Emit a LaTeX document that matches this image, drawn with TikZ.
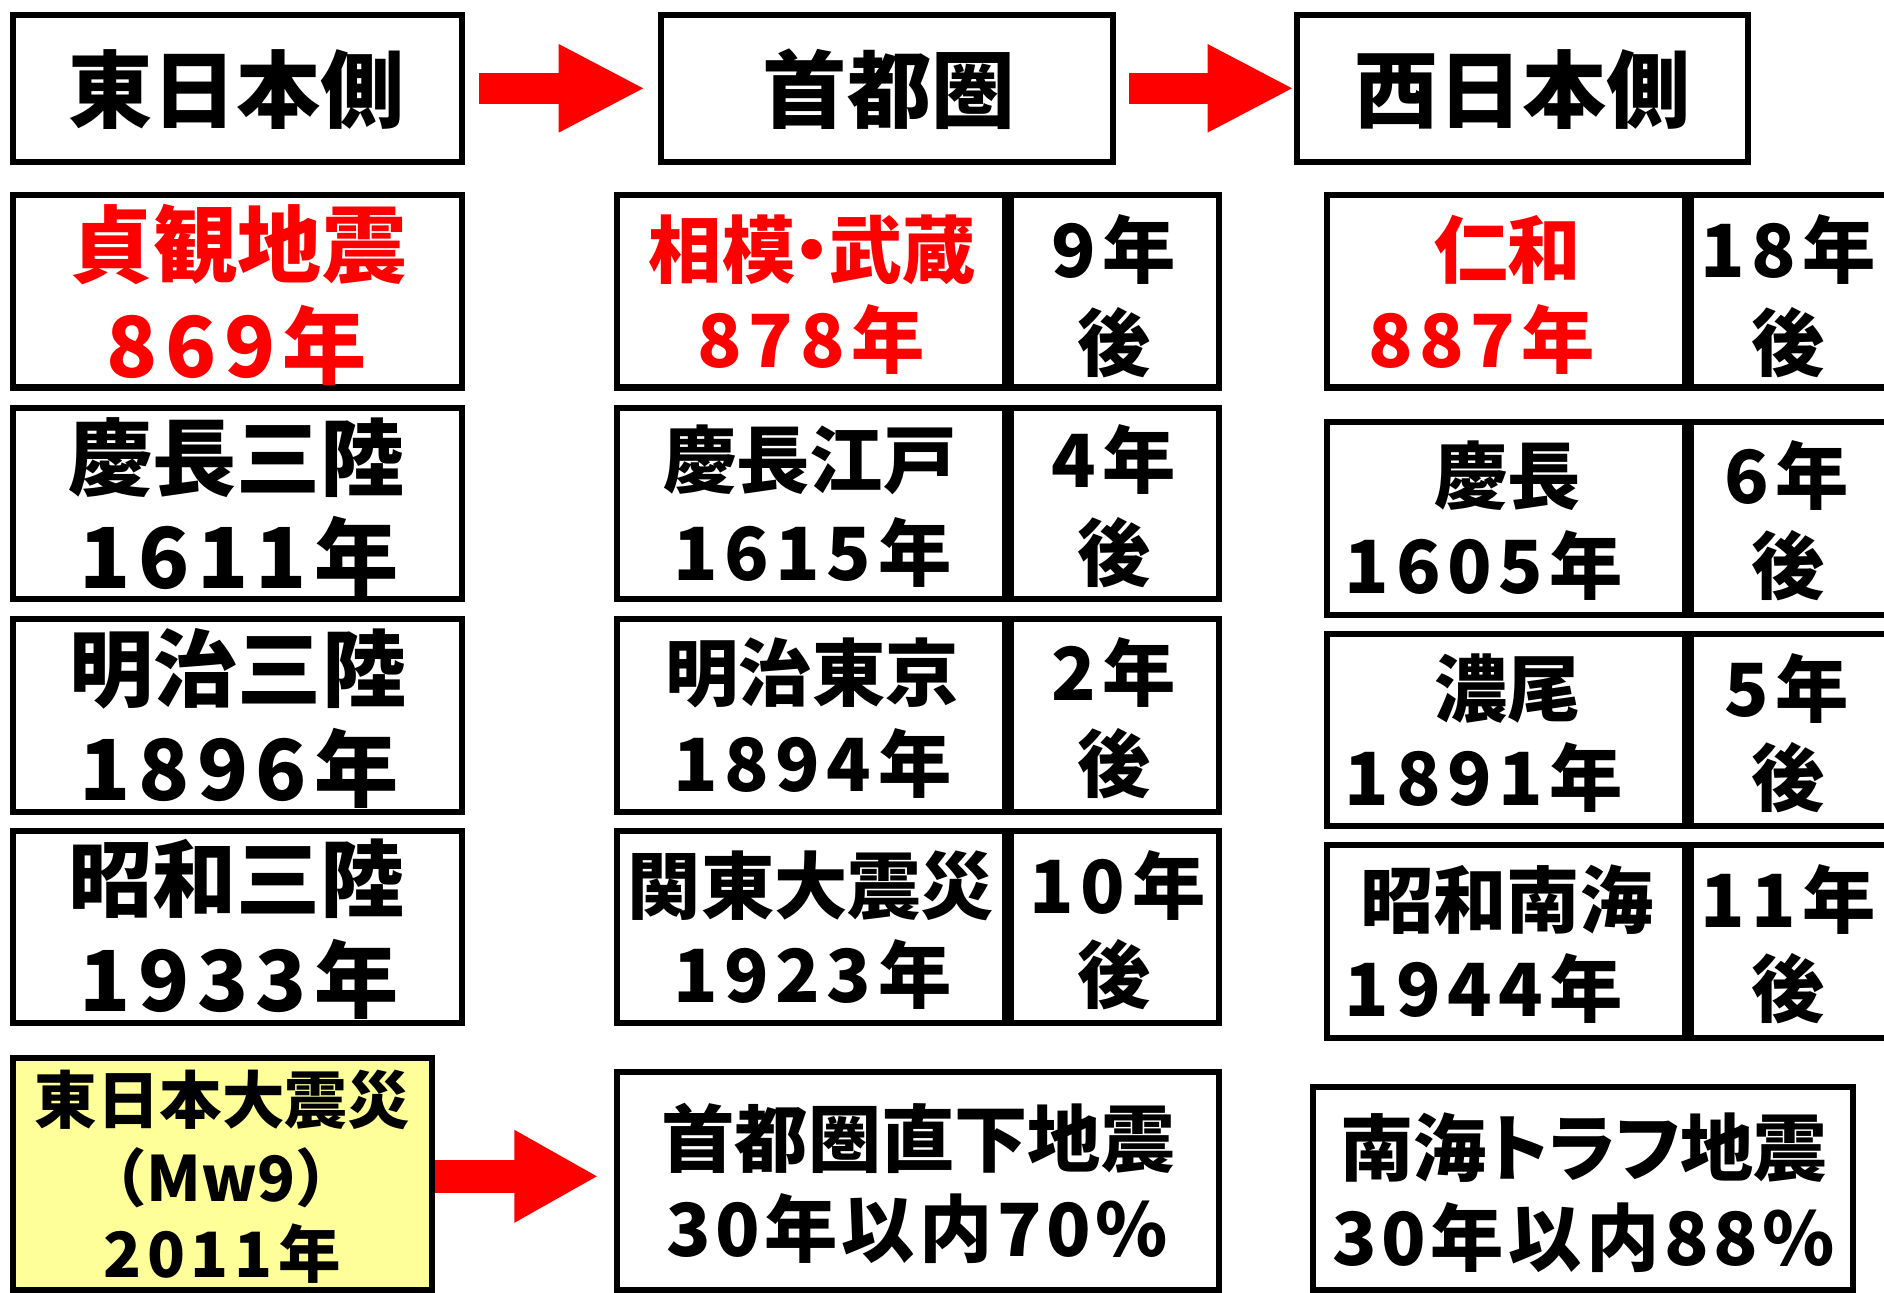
\documentclass[tikz,border=0pt]{standalone}
\usepackage{fontspec}
\setmainfont{Noto Sans CJK JP}
\usetikzlibrary{arrows.meta}
\definecolor{rd}{HTML}{FF0000}
\definecolor{paleyellow}{HTML}{FFFF99}
\newcommand\bx[6]{%
  \pgfmathsetmacro\bw{#5-#3-5}\pgfmathsetmacro\bh{#6-#4-5}%
  \node[#1, anchor=north west, minimum width=\bw pt, minimum height=\bh pt] (#2) at (#3,#4) {};}
\newcommand\FA{\fontsize{70}{80}\selectfont\bfseries}
\newcommand\FB{\fontsize{70}{84}\selectfont\bfseries}
\newcommand\FC{\fontsize{61}{74}\selectfont\bfseries}
\newcommand\FD{\fontsize{52}{62}\selectfont\bfseries}
\newcommand\FE{\fontsize{61}{74}\selectfont\bfseries}
\newcommand\LS{\addfontfeature{LetterSpace=9}}
\newcommand\LSs{\addfontfeature{LetterSpace=6}}
\newcommand\PALT{\addfontfeature{RawFeature=+palt}}
\begin{document}
\begin{tikzpicture}[x=1pt,y=-1pt,
  cell/.style={draw=black, line width=5pt, inner sep=0pt, fill=white},
  ycell/.style={cell, fill=paleyellow},
  txt/.style={inner sep=0pt, anchor=base, text=black},
  redtxt/.style={txt, text=rd},
  bigarrow/.style={draw=rd, line width=26pt, -{Triangle[length=72pt,width=68pt]}}]
\useasboundingbox (0,0) rectangle (1568,1076);
\fill[white] (0,0) rectangle (1568,1076);
% ---- headers
\bx{cell}{hA}{8}{10}{387}{137}
\bx{cell}{hB}{548}{10}{929}{137}
\bx{cell}{hC}{1077}{10}{1457}{137}
\node[txt, font=\FA] (thA) at (197,101) {東日本側};
\node[txt, font=\FA] (thB) at (740,101) {首都圏};
\node[txt, font=\FA] (thC) at (1267,101) {西日本側};
% ---- column 1
\bx{cell}{e1}{8}{160}{387}{325}
\bx{cell}{e2}{8}{337}{387}{501}
\bx{cell}{e3}{8}{513}{387}{678}
\bx{cell}{e4}{8}{689}{387}{854}
\bx{ycell}{e5}{8}{878}{362}{1076}
\node[redtxt, font=\FB] (e1a) at (198,230) {貞観地震};
\node[redtxt, font=\FB\LS] (e1b) at (197,314) {869年};
\node[txt, font=\FB] (e2a) at (197,407) {慶長三陸};
\node[txt, font=\FB\LS] (e2b) at (199,490) {1611年};
\node[txt, font=\FB] (e3a) at (198,583) {明治三陸};
\node[txt, font=\FB\LS] (e3b) at (199,666) {1896年};
\node[txt, font=\FB] (e4a) at (197,758) {昭和三陸};
\node[txt, font=\FB\LS] (e4b) at (199,842) {1933年};
\node[txt, font=\FD] (e5a) at (185,935) {東日本大震災};
\node[txt, font=\FD] (e5b) at (184,1000) {（Mw9）};
\node[txt, font=\FD\LS] (e5c) at (185,1063) {2011年};
% ---- column 2
\bx{cell}{m1}{511}{160}{839}{325}
\bx{cell}{m1r}{839}{160}{1017}{325}
\bx{cell}{m2}{511}{337}{839}{501}
\bx{cell}{m2r}{839}{337}{1017}{501}
\bx{cell}{m3}{511}{513}{839}{678}
\bx{cell}{m3r}{839}{513}{1017}{678}
\bx{cell}{m4}{511}{689}{839}{854}
\bx{cell}{m4r}{839}{689}{1017}{854}
\bx{cell}{m5}{511}{890}{1017}{1076}
\node[redtxt, font=\FC] (m1a) at (676,231) {相模\kern-0.27em・\kern-0.27em武蔵};
\node[redtxt, font=\FC\LS] (m1b) at (675,306) {878年};
\node[txt, font=\FC\LS] (m1c) at (927,231) {9年};
\node[txt, font=\FC] (m1d) at (927,308) {後};
\node[txt, font=\FC] (m2a) at (674,406) {慶長江戸};
\node[txt, font=\FC\LS] (m2b) at (676,483) {1615年};
\node[txt, font=\FC\LS] (m2c) at (927,406) {4年};
\node[txt, font=\FC] (m2d) at (927,483) {後};
\node[txt, font=\FC] (m3a) at (676,583) {明治東京};
\node[txt, font=\FC\LS] (m3b) at (676,659) {1894年};
\node[txt, font=\FC\LS] (m3c) at (927,583) {2年};
\node[txt, font=\FC] (m3d) at (927,659) {後};
\node[txt, font=\FC] (m4a) at (675,760) {関東大震災};
\node[txt, font=\FC\LS] (m4b) at (676,834) {1923年};
\node[txt, font=\FC\LS] (m4c) at (930,760) {10年};
\node[txt, font=\FC] (m4d) at (927,834) {後};
\node[txt, font=\FE] (m5a) at (764,971) {首都圏直下地震};
\node[txt, font=\FE\LSs] (m5b) at (763,1046) {30年以内70\%};
% ---- column 3
\bx{cell}{w1}{1102}{160}{1405}{325}
\bx{cell}{w1r}{1405}{160}{1600}{325}
\bx{cell}{w2}{1102}{349}{1405}{514}
\bx{cell}{w2r}{1405}{349}{1600}{514}
\bx{cell}{w3}{1102}{525}{1405}{690}
\bx{cell}{w3r}{1405}{525}{1600}{690}
\bx{cell}{w4}{1102}{701}{1405}{866}
\bx{cell}{w4r}{1405}{701}{1600}{866}
\bx{cell}{w5}{1090}{902}{1545}{1076}
\node[redtxt, font=\FC] (w1a) at (1255,231) {仁和};
\node[redtxt, font=\FC\LS] (w1b) at (1233,306) {887年};
\node[txt, font=\FC\LS] (w1c) at (1488,231) {18年};
\node[txt, font=\FC] (w1d) at (1488,308) {後};
\node[txt, font=\FC] (w2a) at (1255,419) {慶長};
\node[txt, font=\FC\LS] (w2b) at (1235,494) {1605年};
\node[txt, font=\FC\LS] (w2c) at (1487,419) {6年};
\node[txt, font=\FC] (w2d) at (1488,494) {後};
\node[txt, font=\FC] (w3a) at (1255,596) {濃尾};
\node[txt, font=\FC\LS] (w3b) at (1235,670) {1891年};
\node[txt, font=\FC\LS] (w3c) at (1487,596) {5年};
\node[txt, font=\FC] (w3d) at (1488,670) {後};
\node[txt, font=\FC] (w4a) at (1254,772) {昭和南海};
\node[txt, font=\FC\LS] (w4b) at (1235,846) {1944年};
\node[txt, font=\FC\LS] (w4c) at (1488,772) {11年};
\node[txt, font=\FC] (w4d) at (1488,846) {後};
\node[txt, font=\FE\PALT] (w5a) at (1318,978) {南海トラフ地震};
\node[txt, font=\FE\LSs] (w5b) at (1318,1053) {30年以内88\%};
% ---- arrows
\coordinate (a3y) at (0,979);
\draw[bigarrow] ([xshift=12pt]hA.east) -- ([xshift=-11pt]hB.west);
\draw[bigarrow] ([xshift=11pt]hB.east) -- (hC.west);
\draw[bigarrow, line width=27pt, -{Triangle[length=70pt,width=72pt]}] (e5.east |- a3y) -- ([xshift=-13pt]m5.west |- a3y);
\end{tikzpicture}
\end{document}
